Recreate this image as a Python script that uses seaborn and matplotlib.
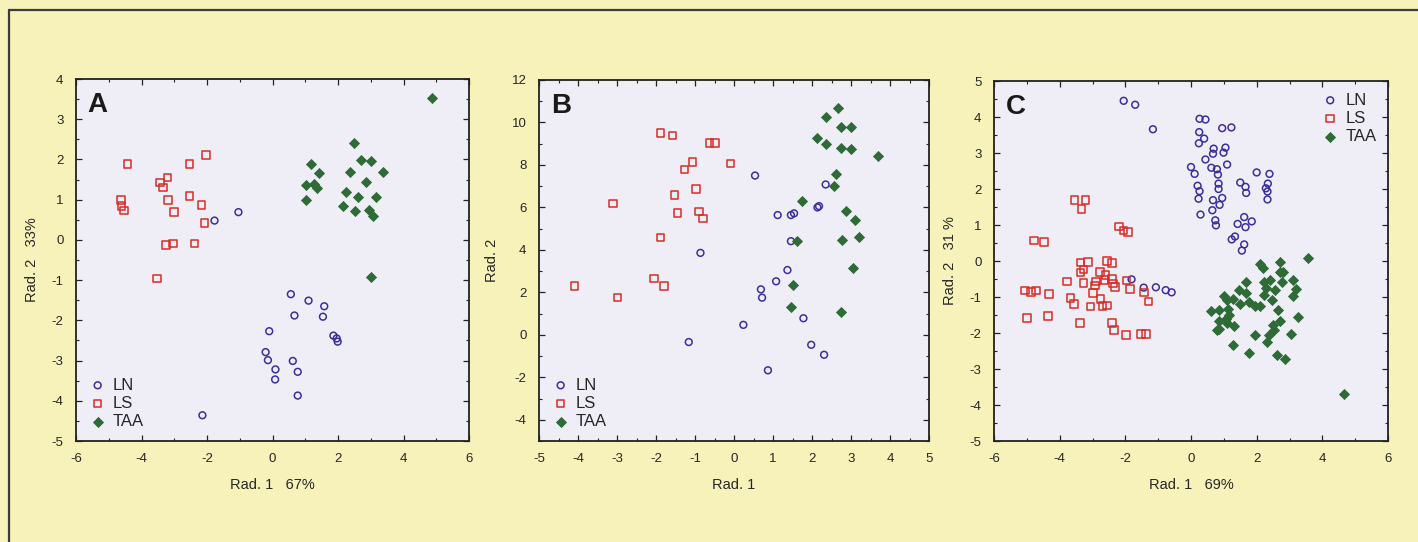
import numpy as np
import pandas as pd
import seaborn as sns
import matplotlib
matplotlib.use("Agg")
import matplotlib.pyplot as plt
from matplotlib.lines import Line2D
from matplotlib.ticker import MultipleLocator

# ---- data ----
groups = ["LN", "LS", "TAA"]

# panel A
a_ln_x = [-1.77, -1.04, 0.56, 1.10, 1.58, 0.67, 1.54, -0.10, 1.86, 1.99, 1.96, -0.21, -0.14, 0.09, 0.08, 0.62, 0.77, 0.77, -2.14]
a_ln_y = [0.48, 0.69, -1.35, -1.51, -1.65, -1.88, -1.91, -2.27, -2.38, -2.53, -2.45, -2.79, -2.99, -3.22, -3.47, -3.01, -3.28, -3.87, -4.36]
a_ls_x = [-4.43, -4.63, -4.61, -4.53, -3.44, -3.21, -3.35, -3.20, -3.00, -2.53, -2.53, -2.03, -2.17, -2.08, -3.25, -3.03, -2.38, -3.52]
a_ls_y = [1.88, 0.99, 0.85, 0.73, 1.43, 1.55, 1.30, 0.99, 0.69, 1.88, 1.09, 2.11, 0.86, 0.42, -0.13, -0.09, -0.09, -0.96]
a_taa_x = [4.87, 2.49, 1.17, 1.41, 1.03, 1.27, 1.36, 1.02, 2.69, 3.02, 2.38, 3.37, 2.84, 2.25, 2.62, 3.15, 2.14, 2.52, 2.96, 3.08, 3.01]
a_taa_y = [3.52, 2.41, 1.88, 1.67, 1.37, 1.39, 1.28, 0.98, 1.99, 1.95, 1.69, 1.69, 1.43, 1.18, 1.07, 1.07, 0.84, 0.73, 0.75, 0.60, -0.93]

# panel B
b_ln_x = [0.54, 2.35, 2.18, 2.14, 1.12, 1.46, 1.54, 1.46, -0.86, 1.37, 1.08, 0.69, 0.72, 1.78, 0.24, -1.16, 1.98, 2.31, 0.87]
b_ln_y = [7.50, 7.08, 6.06, 6.00, 5.64, 5.64, 5.72, 4.41, 3.86, 3.05, 2.52, 2.14, 1.75, 0.78, 0.47, -0.34, -0.47, -0.94, -1.67]
b_ls_x = [-1.88, -1.58, -0.63, -0.49, -1.06, -1.27, -0.09, -3.11, -1.53, -0.97, -1.45, -0.90, -0.80, -1.88, -4.09, -2.99, -2.05, -1.79]
b_ls_y = [9.50, 9.38, 9.03, 9.03, 8.13, 7.78, 8.06, 6.19, 6.59, 6.88, 5.73, 5.81, 5.47, 4.58, 2.31, 1.75, 2.66, 2.31]
b_taa_x = [2.66, 2.36, 2.74, 3.01, 2.14, 2.37, 2.74, 3.01, 3.69, 2.62, 2.57, 1.75, 2.88, 3.10, 1.61, 2.78, 3.20, 3.04, 1.52, 1.46, 2.75]
b_taa_y = [10.70, 10.28, 9.80, 9.80, 9.25, 9.00, 8.78, 8.75, 8.44, 7.56, 7.03, 6.30, 5.83, 5.39, 4.41, 4.47, 4.63, 3.13, 2.34, 1.31, 1.09]

# panel C
c_ln_x = [-2.05, -1.70, -1.16, 0.26, 0.44, 0.95, 1.23, 0.25, 0.40, 0.24, 0.69, 0.67, 0.44, 1.05, 0.99,
          0.00, 0.11, 0.62, 0.79, 0.82, 1.10, 2.00, 2.39, 0.20, 0.26, 0.23, 0.84, 0.84, 1.50, 1.66,
          1.68, 2.28, 2.34, 2.33, 2.33, 0.67, 0.95, 0.87, 0.29, 0.65, 0.74, 0.76, 1.62, 1.85, 1.42,
          1.66, 1.24, 1.34, 1.62, 1.55, -1.81, -1.44, -1.07, -0.77, -0.59]
c_ln_y = [4.45, 4.34, 3.66, 3.95, 3.93, 3.69, 3.71, 3.58, 3.40, 3.27, 3.12, 2.98, 2.82, 3.15, 3.01,
          2.61, 2.42, 2.59, 2.55, 2.40, 2.68, 2.46, 2.42, 2.09, 1.94, 1.73, 2.15, 2.00, 2.18, 2.06,
          1.89, 2.02, 2.15, 1.93, 1.71, 1.69, 1.75, 1.56, 1.29, 1.41, 1.13, 0.99, 1.22, 1.10, 1.03,
          0.94, 0.60, 0.68, 0.46, 0.29, -0.51, -0.74, -0.73, -0.81, -0.87]
c_ls_x = [-3.55, -3.21, -3.33, -2.19, -2.05, -1.92, -4.79, -4.48, -3.37, -3.13, -2.56, -2.40, -3.37, -3.28,
          -3.78, -3.28, -2.78, -2.89, -2.93, -2.60, -2.63, -2.41, -2.38, -2.31, -1.97, -1.86, -5.05, -4.72,
          -4.87, -4.33, -3.67, -3.57, -2.98, -3.06, -2.76, -2.69, -2.56, -1.44, -1.30, -5.00, -4.35, -3.38,
          -2.41, -2.34, -1.98, -1.53, -1.37]
c_ls_y = [1.69, 1.69, 1.44, 0.96, 0.85, 0.81, 0.57, 0.52, -0.04, -0.03, 0.00, -0.06, -0.32, -0.24,
          -0.57, -0.61, -0.31, -0.57, -0.68, -0.39, -0.52, -0.50, -0.63, -0.72, -0.54, -0.77, -0.82, -0.82,
          -0.86, -0.91, -1.03, -1.19, -0.89, -1.26, -1.05, -1.25, -1.24, -0.87, -1.12, -1.58, -1.53, -1.73,
          -1.72, -1.91, -2.06, -2.02, -2.03]
c_taa_x = [3.55, 2.10, 2.19, 2.72, 2.70, 2.80, 1.69, 2.21, 2.40, 2.56, 2.76, 3.10, 3.21, 3.11, 1.45, 1.66,
           2.27, 2.22, 2.48, 0.99, 1.10, 1.27, 1.50, 1.76, 1.94, 2.11, 0.61, 0.84, 1.12, 1.17, 1.06, 0.84,
           1.09, 0.86, 0.79, 1.30, 2.65, 2.72, 3.25, 2.50, 2.52, 2.39, 3.05, 1.94, 2.31, 1.27, 1.76, 2.62,
           2.87, 4.65]
c_taa_y = [0.09, -0.09, -0.20, -0.04, -0.31, -0.31, -0.59, -0.58, -0.52, -0.81, -0.59, -0.52, -0.79, -0.96,
           -0.81, -0.88, -0.75, -0.95, -1.09, -0.97, -1.07, -1.06, -1.19, -1.15, -1.24, -1.25, -1.39, -1.35,
           -1.32, -1.51, -1.60, -1.67, -1.71, -1.88, -1.93, -1.81, -1.37, -1.67, -1.56, -1.79, -1.93, -2.06,
           -2.04, -2.06, -2.25, -2.34, -2.55, -2.62, -2.72, -3.70]

panels = [
    ("A", [(a_ln_x, a_ln_y), (a_ls_x, a_ls_y), (a_taa_x, a_taa_y)]),
    ("B", [(b_ln_x, b_ln_y), (b_ls_x, b_ls_y), (b_taa_x, b_taa_y)]),
    ("C", [(c_ln_x, c_ln_y), (c_ls_x, c_ls_y), (c_taa_x, c_taa_y)]),
]

xlabels = ["Rad. 1   67%", "Rad. 1", "Rad. 1   69%"]
ylabels = ["Rad. 2   33%", "Rad. 2", "Rad. 2   31 %"]

# ---- style ----
sns.set_style("ticks")
plt.rcParams["font.family"] = ["Liberation Sans", "DejaVu Sans"]
plt.rcParams["axes.unicode_minus"] = False

bg = "#f7f2ba"
ax_bg = "#efeef6"
colors = {"LN": "#3b2f9e", "LS": "#d62d26", "TAA": "#2f6b36"}
markers = {"LN": "o", "LS": "s", "TAA": "D"}
sizes = {"LN": 24, "LS": 30, "TAA": 26}

fig = plt.figure(figsize=(14.18, 5.42), dpi=100, facecolor=bg)

# outer frame (top + left only)
fig.add_artist(Line2D([9 / 1418, 1.0], [1 - 10 / 542, 1 - 10 / 542], transform=fig.transFigure, color="#3c3c3c", lw=1.6))
fig.add_artist(Line2D([9 / 1418, 9 / 1418], [0, 1 - 10 / 542], transform=fig.transFigure, color="#3c3c3c", lw=1.6))

boxes = [
    [76 / 1418, 101 / 542, 393 / 1418, 362 / 542],
    [539 / 1418, 101 / 542, 390 / 1418, 361 / 542],
    [994 / 1418, 101 / 542, 394 / 1418, 360 / 542],
]
limits = [((-6, 6), (-5, 4)), ((-5, 5), (-5, 12)), ((-6, 6), (-5, 5))]
major = [((2, 1)), ((1, 2)), ((2, 1))]
minor = [((1, 0.5)), ((0.5, 1)), ((1, 0.5))]

for i, (letter, series) in enumerate(panels):
    ax = fig.add_axes(boxes[i])
    ax.set_facecolor(ax_bg)
    for g, (xs, ys) in zip(groups, series):
        df = pd.DataFrame({"x": xs, "y": ys})
        if g == "TAA":
            sns.scatterplot(data=df, x="x", y="y", ax=ax, marker=markers[g], s=sizes[g],
                            color=colors[g], edgecolor=colors[g], linewidth=0.6, label=g, zorder=3)
        else:
            sns.scatterplot(data=df, x="x", y="y", ax=ax, marker=markers[g], s=sizes[g],
                            facecolor="none", edgecolor=colors[g], linewidth=1.1, label=g, zorder=3)

    (x0, x1), (y0, y1) = limits[i]
    ax.set_xlim(x0, x1)
    ax.set_ylim(y0, y1)
    ax.xaxis.set_major_locator(MultipleLocator(major[i][0]))
    ax.yaxis.set_major_locator(MultipleLocator(major[i][1]))
    ax.xaxis.set_minor_locator(MultipleLocator(minor[i][0]))
    ax.yaxis.set_minor_locator(MultipleLocator(minor[i][1]))
    if letter == "B":
        ax.set_yticks(np.arange(-4, 13, 2))
    ax.tick_params(which="both", direction="in", top=True, right=True, color="#222222")
    ax.tick_params(which="major", length=4, width=0.9, labelsize=9.5, pad=9)
    ax.tick_params(which="minor", length=2.5, width=0.8)
    for sp in ax.spines.values():
        sp.set_linewidth(1.3)
        sp.set_color("#222222")

    ax.set_xlabel(xlabels[i], fontsize=10.5, labelpad=9)
    ax.set_ylabel(ylabels[i], fontsize=10.5, labelpad=9)
    ax.text(0.03, 0.965, letter, transform=ax.transAxes, fontsize=20, fontweight="bold",
            va="top", ha="left", color="#1a1a1a")

    loc = "upper right" if letter == "C" else "lower left"
    ax.legend(loc=loc, frameon=False, fontsize=12, handletextpad=0.3, labelspacing=0.2,
              borderaxespad=0.3, handlelength=1.2)

fig.savefig("out.png", dpi=100, facecolor=bg)
